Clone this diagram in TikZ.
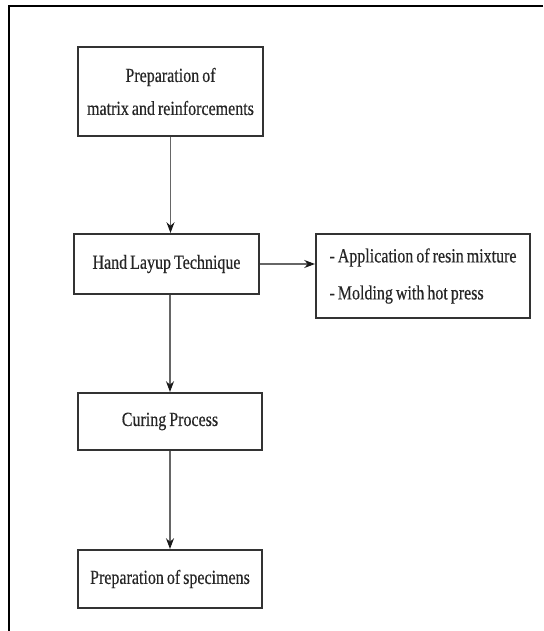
\documentclass[tikz,border=0pt]{standalone}
\usepackage{fontspec}
\setmainfont{Liberation Serif}[FakeStretch=0.8,WordSpace=0.75,FakeBold=0.4]
\usetikzlibrary{arrows.meta,positioning}

\begin{document}
\begin{tikzpicture}[x=0.75pt,y=-0.75pt,>=Stealth,
  stepbox/.style={draw=black!80,line width=1.6pt,inner sep=0pt,align=center,
    text=black!85,font=\fontsize{15}{24.75}\selectfont,minimum width=138.5pt},
  flow/.style={->,draw=black!60,line width=0.8pt,
    arrows={-Stealth[length=8pt,width=6pt,black!90]}}]
  \useasboundingbox (0,0) rectangle (543,631);
  \draw[line width=2pt] (543,6) -- (9,6) -- (9,631);
  \node[stepbox,minimum height=66.75pt] (prep) at (170.5,91.5)
    {Preparation of\\matrix and reinforcements};
  \node[stepbox,minimum height=45pt] (layup) at (166.5,264) {Hand Layup Technique};
  \node[stepbox,align=left,minimum width=160.5pt,minimum height=63pt,
    font=\fontsize{15}{27.75}\selectfont] (steps) at (423,276)
    {- Application of resin mixture\\- Molding with hot press};
  \node[stepbox,minimum height=42.75pt] (cure) at (170,421.5) {Curing Process};
  \node[stepbox,minimum height=43.5pt] (spec) at (170,579) {Preparation of specimens};
  \draw[flow] (prep.south) -- (prep.south |- layup.north);
  \draw[flow] (layup.east) -- (layup.east -| steps.west);
  \draw[flow] (cure.north |- layup.south) -- (cure.north);
  \draw[flow] (cure.south) -- (spec.north);
\end{tikzpicture}
\end{document}
